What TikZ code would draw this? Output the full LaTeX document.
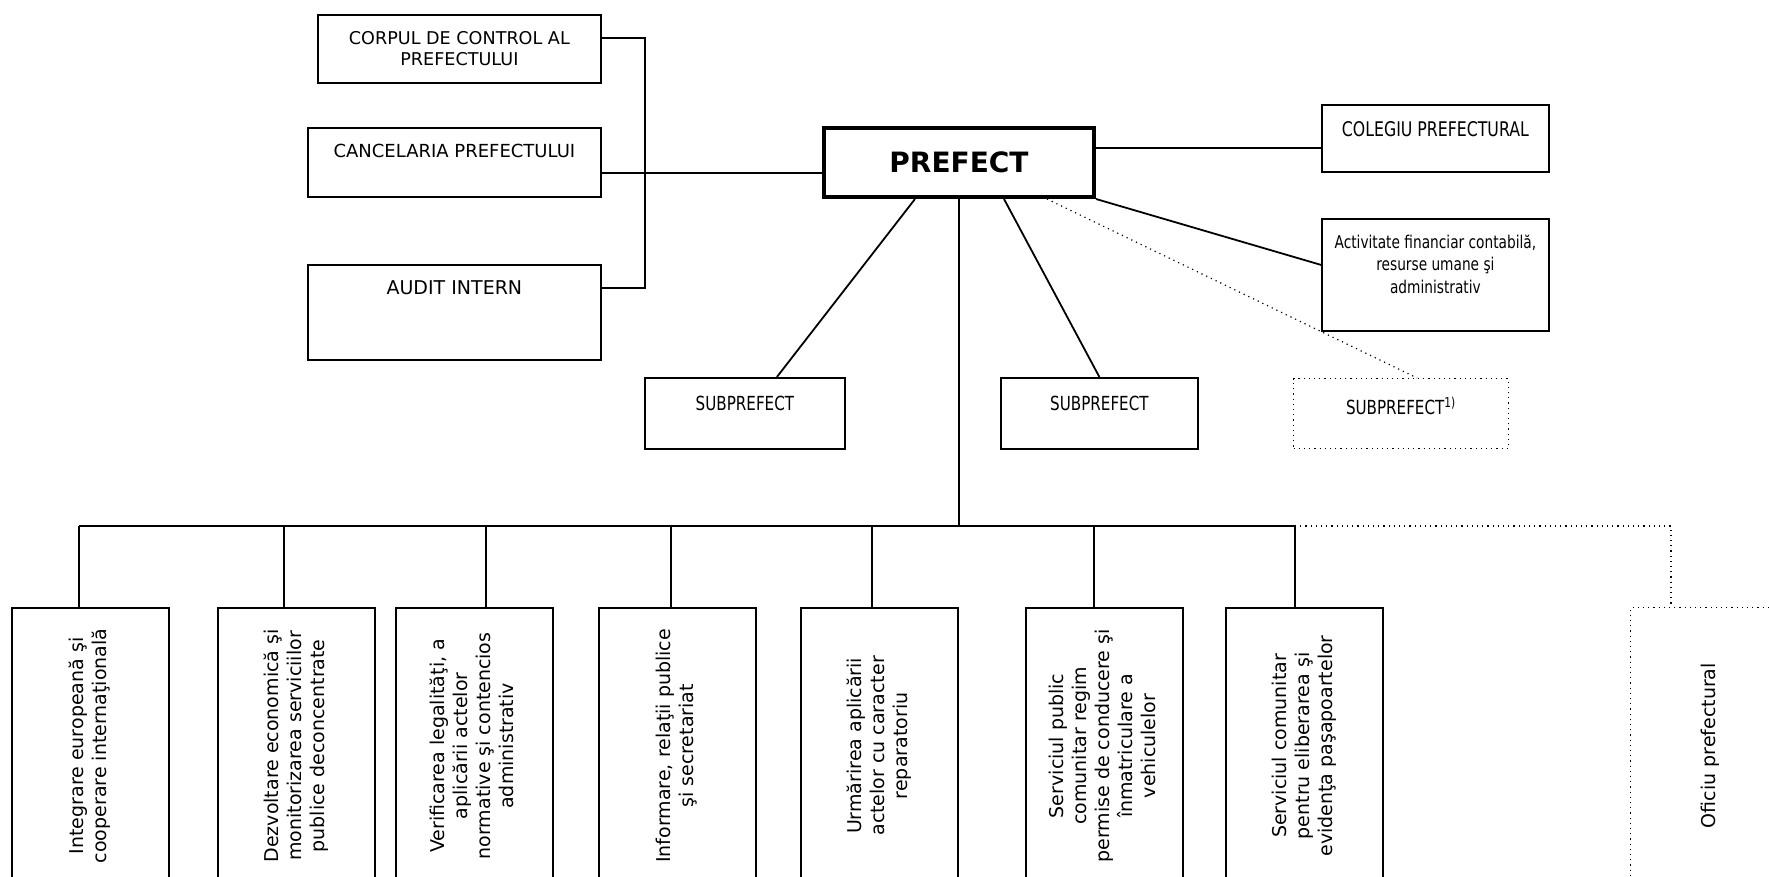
\documentclass[tikz,border=0pt]{standalone}
\usepackage{fontspec}
\setmainfont{DejaVu Sans}
\newfontfamily\condfont[FakeStretch=0.78]{DejaVu Sans}
\begin{document}
\begin{tikzpicture}[x=0.5pt,y=-0.5pt,
  every node/.style={font=\fontsize{9.5}{11.5}\selectfont},
  box/.style={draw,line width=0.9pt,inner sep=0pt,align=center,anchor=north west},
  dotbox/.style={box,line width=0.6pt,dotted},
  conn/.style={line width=0.9pt},
  dotconn/.style={line width=0.6pt,dotted},
  lbl/.style={anchor=north,yshift=-5pt,align=center}]
\clip (0,0) rectangle (1769,877);
% left column
\node[box,minimum width=141.5pt,minimum height=34pt,font=\fontsize{8.8}{10.5}\selectfont] (corpul) at (317,14) {CORPUL DE CONTROL AL\\PREFECTULUI};
\node[box,minimum width=146.5pt,minimum height=34.5pt,label={[lbl,font=\fontsize{9}{11}\selectfont]north:CANCELARIA PREFECTULUI}] (cancel) at (307,127) {};
\node[box,minimum width=146.5pt,minimum height=47.5pt,label={[lbl]north:AUDIT INTERN}] (audit) at (307,264) {};
% prefect
\node[box,line width=2pt,minimum width=135pt,minimum height=34.5pt,font=\fontsize{14}{16}\selectfont\bfseries] (prefect) at (822,126) {PREFECT};
% right column
\node[box,minimum width=113.5pt,minimum height=33.5pt,label={[lbl,font=\condfont\fontsize{10.1}{12}\selectfont]north:COLEGIU PREFECTURAL}] (colegiu) at (1321,104) {};
\node[box,minimum width=113.5pt,minimum height=56pt,label={[lbl,font=\condfont\fontsize{8.8}{11.2}\selectfont]north:{Activitate financiar contabilă,\\resurse umane şi\\administrativ}}] (activ) at (1321,218) {};
% subprefecti
\node[box,minimum width=100pt,minimum height=35.5pt,label={[lbl,yshift=-1pt,font=\condfont\fontsize{9.7}{11.5}\selectfont]north:SUBPREFECT}] (sub1) at (644,377) {};
\node[box,minimum width=98.5pt,minimum height=35.5pt,label={[lbl,yshift=-1pt,font=\condfont\fontsize{9.7}{11.5}\selectfont]north:SUBPREFECT}] (sub2) at (1000,377) {};
\node[dotbox,minimum width=107.5pt,minimum height=35pt,label={[lbl,yshift=-1pt,font=\condfont\fontsize{9.7}{11.5}\selectfont]north:SUBPREFECT\textsuperscript{1)}}] (sub3) at (1293,378) {};

\coordinate (ljoin) at (645,173);
\coordinate (rjoin) at (1200,148);
\coordinate (corp-j) at ([yshift=5.5pt]corpul.east);
\coordinate (aud-j) at ([yshift=12pt]audit.east);
\draw[conn] (corp-j) -| (ljoin) |- (aud-j);
\draw[conn] (cancel.east |- ljoin) -- (prefect.west |- ljoin);
\draw[conn] (prefect.east |- rjoin) -- (colegiu.west |- rjoin);
\draw[conn] (prefect.south east) -- ([yshift=5pt]activ.west);
\draw[conn] ([xshift=-22pt]prefect.south) -- ([xshift=16pt]sub1.north);
\draw[conn] ([xshift=22.5pt]prefect.south) -- (sub2.north);
\draw[dotconn] ([xshift=44pt]prefect.south) -- ([xshift=8pt]sub3.north);

% compartimente
\foreach \n/\x/\d/\t in {
  b1/11/79/{Integrare europeană şi\\cooperare internaţională},
  b2/217/284/{Dezvoltare economică şi\\monitorizarea serviciilor\\publice deconcentrate},
  b3/395/486/{Verificarea legalităţi, a\\aplicării actelor\\normative şi contencios\\administrativ},
  b4/598/671/{Informare, relaţii publice\\şi secretariat},
  b5/800/872/{Urmărirea aplicării\\actelor cu caracter\\reparatoriu},
  b6/1025/1094/{Serviciul public\\comunitar regim\\permise de conducere şi\\înmatriculare a\\vehiculelor},
  b7/1225/1295/{Serviciul comunitar\\pentru eliberarea şi\\evidenţa paşapoartelor}}{
  \node[box,minimum width=78.5pt,minimum height=138pt] (\n) at (\x,607) {\rotatebox{90}{\begin{tabular}{@{}c@{}}\t\end{tabular}}};
  \coordinate (d\n) at (\d,526);
  \draw[conn] (d\n) -- (d\n |- \n.north);
}
\node[dotbox,minimum width=80pt,minimum height=138pt] (b8) at (1630,607) {\rotatebox{90}{Oficiu prefectural}};
\coordinate (db8) at (1671,526);
\draw[conn] (db1) -- (db7);
\draw[conn] (prefect.south) -- (prefect.south |- db1);
\draw[dotconn] (db7) -- (db8) -- (db8 |- b8.north);
\end{tikzpicture}
\end{document}
